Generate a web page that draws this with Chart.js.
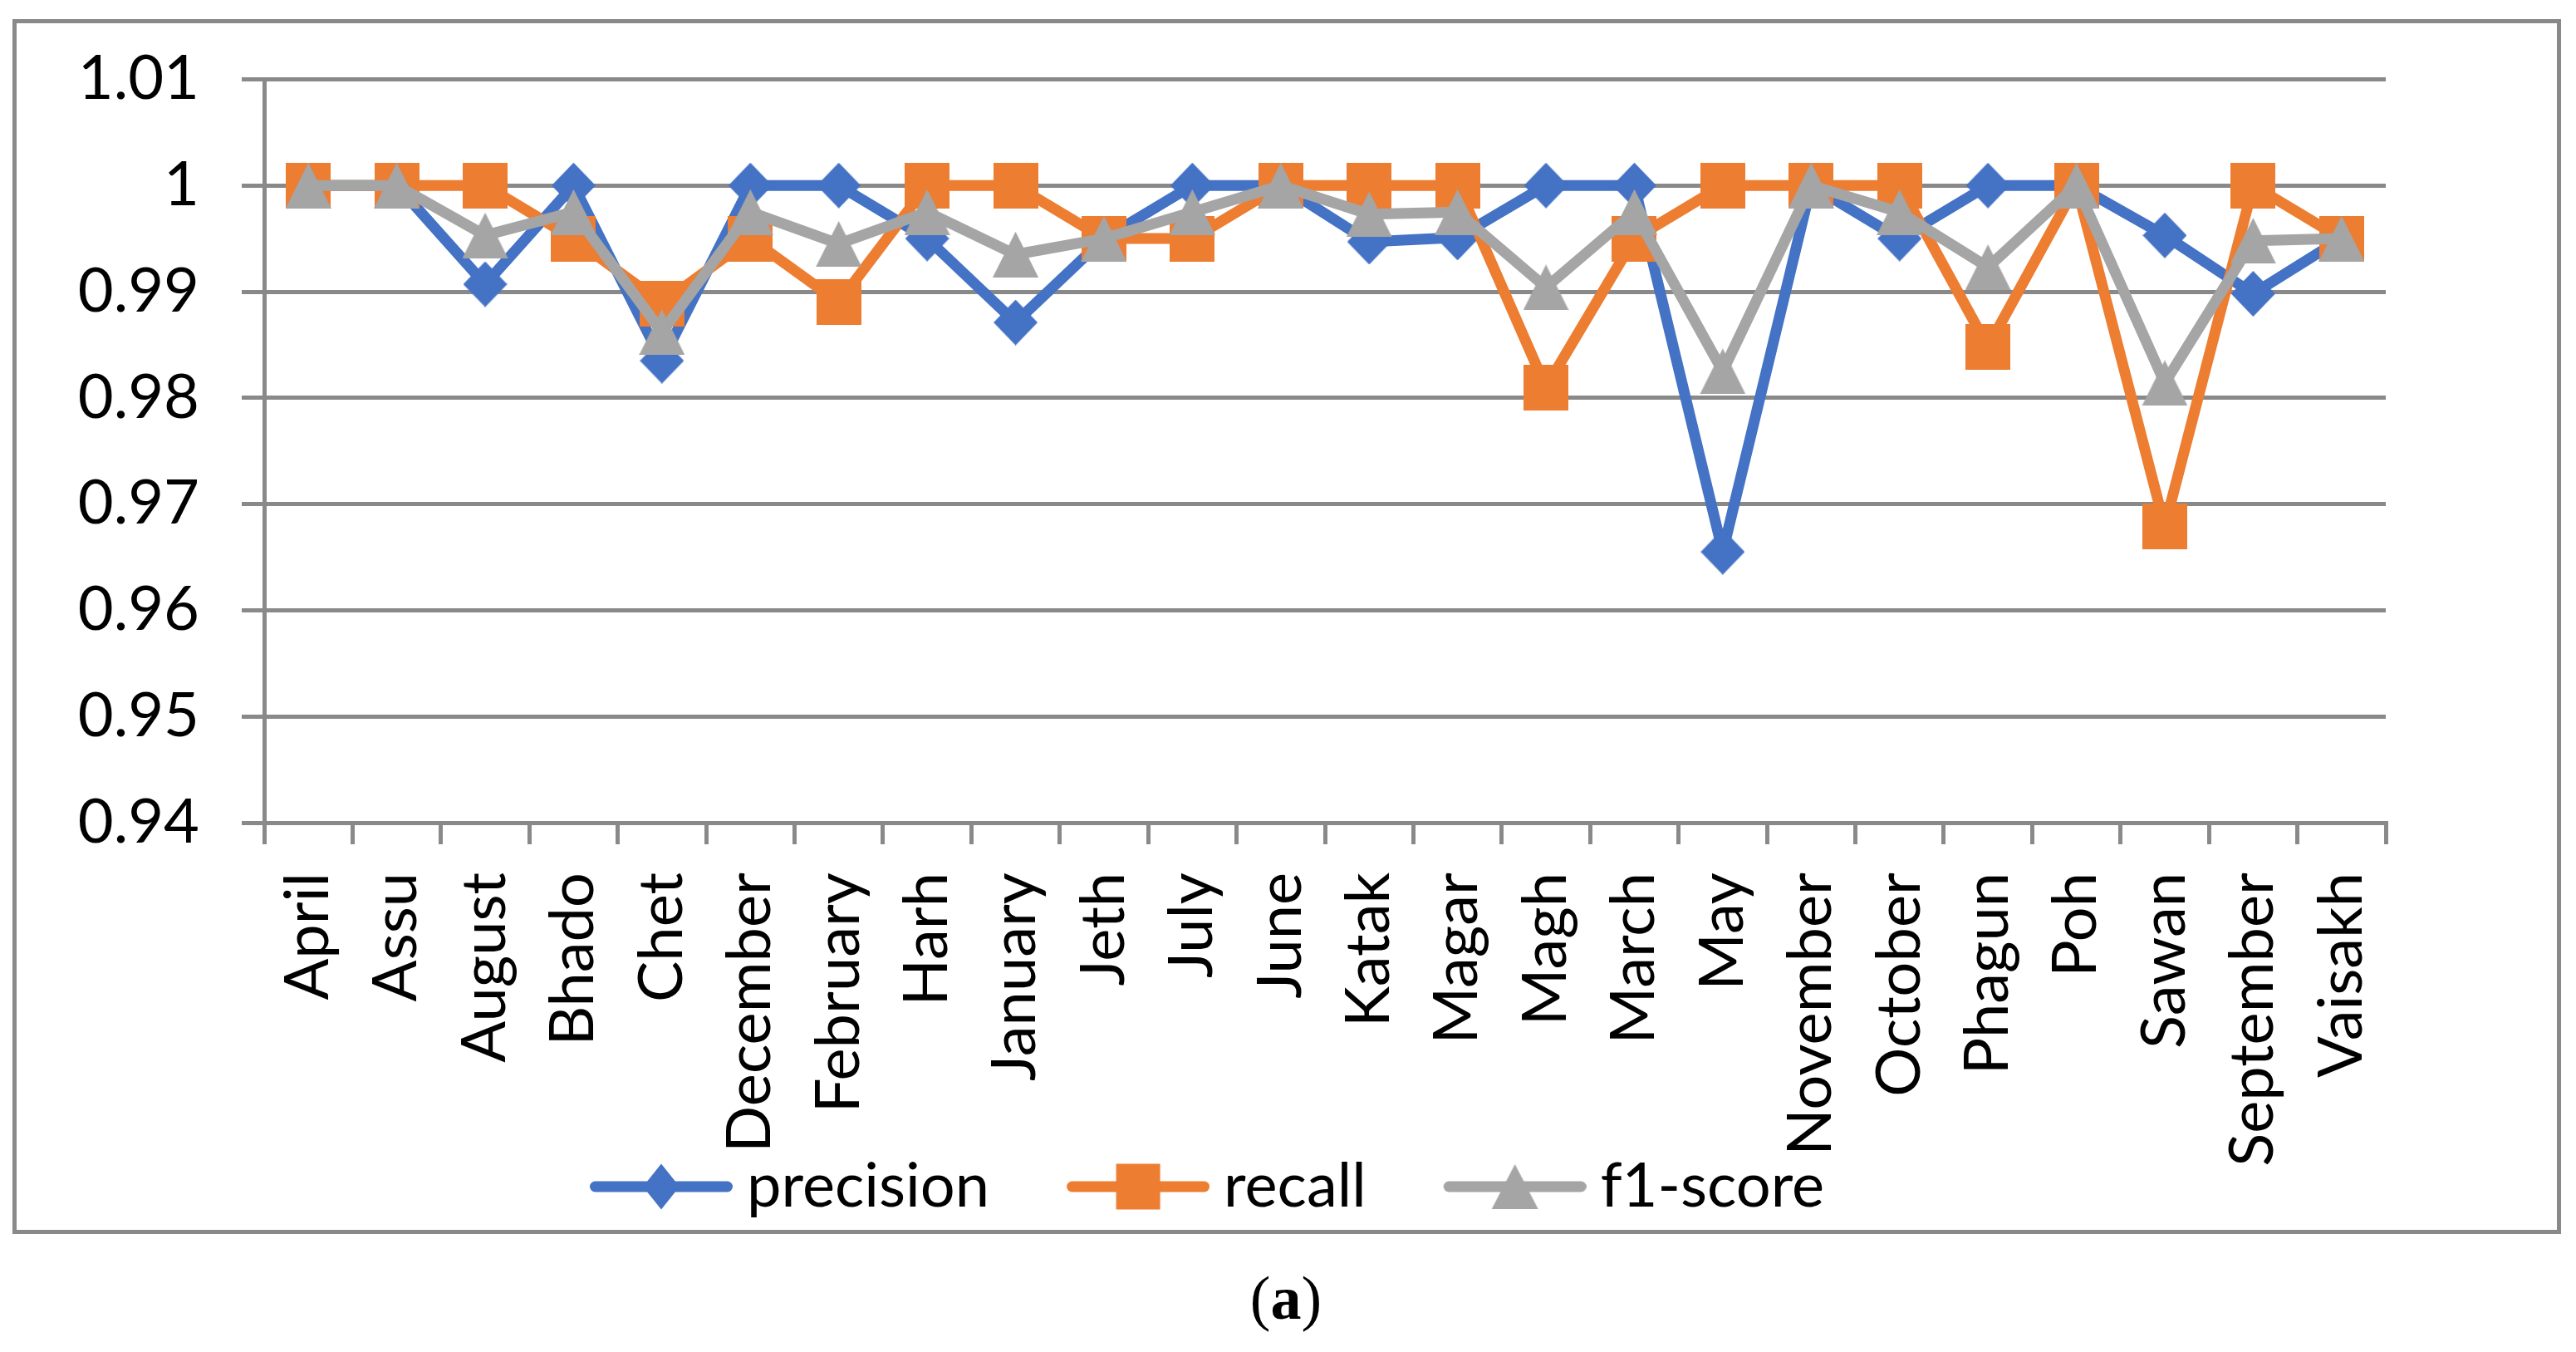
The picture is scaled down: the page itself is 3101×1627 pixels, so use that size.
<!DOCTYPE html>
<html>
<head>
<meta charset="utf-8">
<script src="https://cdn.jsdelivr.net/npm/chart.js@4/dist/chart.umd.min.js"></script>
<style>
  html, body { margin: 0; padding: 0; background: #ffffff; }
  #wrap { position: relative; width: 3101px; height: 1627px; overflow: hidden; background: #fff; }
  #chart { position: absolute; left: 0; top: 0; }
  #frame { position: absolute; left: 15px; top: 23px; width: 3068px; height: 1462px;
           border: 5px solid #898989; box-sizing: border-box; pointer-events: none; }
  #caption { position: absolute; left: 0; top: 1525px; width: 3096px; text-align: center;
             font-family: "Liberation Serif", "Times New Roman", serif; font-size: 74px; line-height: 74px; color: #000; }
</style>
</head>
<body>
<div id="wrap">
  <canvas id="chart" width="3101" height="1627"></canvas>
  <div id="frame"></div>
  <div id="caption">(<b>a</b>)</div>
</div>
<script>
// ---- data ----
const categories = ["April","Assu","August","Bhado","Chet","December","February","Harh","January","Jeth","July","June","Katak","Magar","Magh","March","May","November","October","Phagun","Poh","Sawan","September","Vaisakh"];
const precision = [1, 1, 0.9907, 1, 0.9835, 1, 1, 0.995, 0.9871, 0.995, 1, 1, 0.9947, 0.9951, 1, 1, 0.9655, 1, 0.995, 1, 1, 0.9953, 0.9898, 0.995];
const recall    = [1, 1, 1, 0.995, 0.9889, 0.995, 0.989, 1, 1, 0.995, 0.995, 1, 1, 1, 0.981, 0.995, 1, 1, 1, 0.9848, 1, 0.9679, 1, 0.995];
const f1score   = [1, 1, 0.9953, 0.9975, 0.9862, 0.9975, 0.9945, 0.9975, 0.9935, 0.995, 0.9975, 1, 0.9973, 0.9975, 0.9904, 0.9975, 0.9825, 1, 0.9975, 0.9923, 1, 0.9814, 0.9948, 0.995];
const seriesNames = ["precision", "recall", "f1-score"];
const yTickValues = [0.94, 0.95, 0.96, 0.97, 0.98, 0.99, 1, 1.01];
const yTickLabels = ["0.94", "0.95", "0.96", "0.97", "0.98", "0.99", "1", "1.01"];

// ---- styles ----
const BLUE = "#4472C4", ORANGE = "#ED7D31", GRAY = "#A5A5A5", AXIS = "#898989";
const FONT = "Lato";

function shapePath(ctx, shape, cx, cy, w, h) {
  ctx.beginPath();
  if (shape === "diamond") {
    ctx.moveTo(cx, cy - h / 2); ctx.lineTo(cx + w / 2, cy); ctx.lineTo(cx, cy + h / 2); ctx.lineTo(cx - w / 2, cy);
  } else if (shape === "square") {
    ctx.rect(cx - w / 2, cy - h / 2, w, h);
  } else {
    ctx.moveTo(cx, cy - h / 2); ctx.lineTo(cx + w / 2, cy + h / 2); ctx.lineTo(cx - w / 2, cy + h / 2);
  }
  ctx.closePath();
}
function markerImage(shape, color, w, h) {
  const c = document.createElement("canvas");
  c.width = Math.ceil(w); c.height = Math.ceil(h);
  const ctx = c.getContext("2d");
  ctx.fillStyle = color;
  shapePath(ctx, shape, c.width / 2, c.height / 2, w, h);
  ctx.fill();
  return c;
}
function legendImage(shape, color, w, h) {
  const W = 275, H = 58, x0 = 103, x1 = 275, lw = 13;
  const c = document.createElement("canvas");
  c.width = W; c.height = H;
  const ctx = c.getContext("2d");
  ctx.strokeStyle = color; ctx.lineWidth = lw; ctx.lineCap = "round";
  ctx.beginPath(); ctx.moveTo(x0 + lw / 2, H / 2); ctx.lineTo(x1 - lw / 2, H / 2); ctx.stroke();
  ctx.fillStyle = color;
  shapePath(ctx, shape, (x0 + x1) / 2, H / 2, w, h);
  ctx.fill();
  return c;
}

const pointImgs = [
  markerImage("diamond", BLUE, 53, 55),
  markerImage("square", ORANGE, 54, 55),
  markerImage("triangle", GRAY, 55, 55)
];
const legendImgs = [
  legendImage("diamond", BLUE, 44, 55),
  legendImage("square", ORANGE, 53, 55),
  legendImage("triangle", GRAY, 56, 54)
];

function ds(label, data, color, img, order) {
  return {
    label, data, borderColor: color, backgroundColor: color, borderWidth: 13,
    borderJoinStyle: "round", borderCapStyle: "round", tension: 0,
    pointStyle: img, pointRadius: 27, pointHoverRadius: 27, order, fill: false
  };
}

// place legend like the original and let rotated category labels run past the axis box
const layoutTweaks = {
  id: "layoutTweaks",
  afterLayout(chart) {
    const lg = chart.legend;
    if (lg) {
      const dx = 617 - lg.left;
      lg.left += dx; lg.right += dx;
    }
    const xs = chart.scales.x;
    if (xs) xs.bottom = chart.height;
  }
};

new Chart(document.getElementById("chart"), {
  type: "line",
  data: {
    labels: categories,
    datasets: [
      ds(seriesNames[0], precision, BLUE, pointImgs[0], 2),
      ds(seriesNames[1], recall, ORANGE, pointImgs[1], 1),
      ds(seriesNames[2], f1score, GRAY, pointImgs[2], 0)
    ]
  },
  plugins: [layoutTweaks],
  options: {
    responsive: false,
    animation: false,
    devicePixelRatio: 1,
    layout: { padding: { left: 0, right: 229, top: 94, bottom: 152 } },
    scales: {
      x: {
        type: "category",
        offset: true,
        grid: { offset: true, drawOnChartArea: false, drawTicks: true, tickLength: 26, color: AXIS, lineWidth: 5 },
        border: { display: true, color: AXIS, width: 5 },
        ticks: { autoSkip: false, minRotation: 90, maxRotation: 90, padding: 34, color: "#000",
                 font: { family: FONT, size: 74 } },
        afterFit(scale) { scale.height = 391; }
      },
      y: {
        type: "linear",
        min: 0.94, max: 1.01,
        grid: { color: AXIS, lineWidth: 5, tickLength: 27, drawTicks: true },
        border: { display: true, color: AXIS, width: 5 },
        afterBuildTicks(scale) { scale.ticks = yTickValues.map(v => ({ value: v })); },
        ticks: { padding: 51, color: "#000", font: { family: FONT, size: 74 },
                 callback: (v, i) => yTickLabels[i] },
        afterFit(scale) { scale.width = 318; }
      }
    },
    plugins: {
      title: { display: false },
      tooltip: { enabled: false },
      legend: {
        display: true,
        position: "bottom",
        align: "start",
        labels: {
          usePointStyle: true,
          pointStyleWidth: 235,
          padding: 10,
          color: "#000",
          font: { family: FONT, size: 74 },
          generateLabels(chart) {
            const items = Chart.defaults.plugins.legend.labels.generateLabels(chart);
            items.sort((a, b) => a.datasetIndex - b.datasetIndex);
            items.forEach(it => { it.pointStyle = legendImgs[it.datasetIndex]; it.fontColor = "#000"; });
            return items;
          }
        }
      }
    }
  }
});
</script>
</body>
</html>
